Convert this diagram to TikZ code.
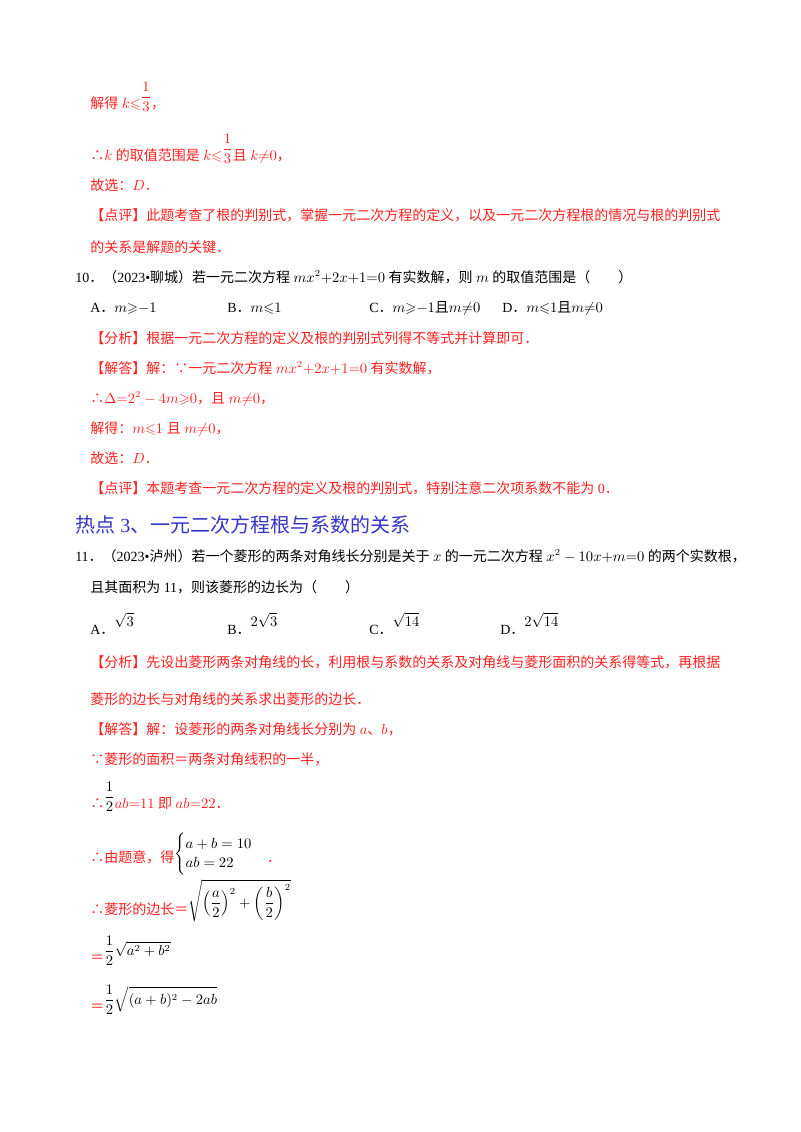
\documentclass[tikz,border=0pt]{standalone}
\usepackage{amsmath,amssymb}
\usepackage{fontspec}
\setmainfont{Liberation Serif}
\newfontfamily\cjk{Noto Sans CJK SC}
\newfontfamily\lat{Liberation Serif}
\XeTeXinterchartokenstate=1
\newXeTeXintercharclass\cjkclass
\newcount\cc
\cc="4E00 \loop\ifnum\cc<"A000 \XeTeXcharclass\cc=\cjkclass \advance\cc 1 \repeat
\cc="3000 \loop\ifnum\cc<"3040 \XeTeXcharclass\cc=\cjkclass \advance\cc 1 \repeat
\cc="FF00 \loop\ifnum\cc<"FFF0 \XeTeXcharclass\cc=\cjkclass \advance\cc 1 \repeat
\XeTeXcharclass"2234=\cjkclass \XeTeXcharclass"2235=\cjkclass
\XeTeXinterchartoks 0 \cjkclass={\cjk}
\XeTeXinterchartoks 4095 \cjkclass={\cjk}
\XeTeXinterchartoks \cjkclass 0={\lat}
\XeTeXinterchartoks \cjkclass 4095={\lat}
\definecolor{rd}{HTML}{FF2020}
\definecolor{bl}{HTML}{3535C8}
\tikzset{t/.style={anchor=base west,inner sep=0pt,font=\fontsize{10.5pt}{12pt}\selectfont},
 r/.style={t,text=rd}}
\newcommand{\up}[1]{\raisebox{5pt}{$\displaystyle\frac{1}{#1}$}}
\begin{document}
\begin{tikzpicture}[x=0.75pt,y=-0.75pt]
\useasboundingbox[fill=white] (0,0) rectangle (800,1132);
\node[r] (l1) at (90,108) {解得 $k{\leqslant}$\up{3}，};
\node[r] (l2) at (90,160) {∴$k$ 的取值范围是 $k{\leqslant}$\up{3}且 $k{\neq}0$，};
\node[r] (l3) at (90,190) {故选：$D$．};
\node[r] (l4) at (90,220) {【点评】此题考查了根的判别式，掌握一元二次方程的定义，以及一元二次方程根的情况与根的判别式};
\node[r] (l5) at (90,252) {的关系是解题的关键．};
\node[t] (q10) at (75,282) {10．（2023•聊城）若一元二次方程 $mx^2{+}2x{+}1{=}0$ 有实数解，则 $m$ 的取值范围是（\qquad）};
\node[t] (a10) at (90,312) {A．$m{\geqslant}{-}1$};
\node[t] (b10) at (227,312) {B．$m{\leqslant}1$};
\node[t] (c10) at (369,312) {C．$m{\geqslant}{-}1$且$m{\neq}0$};
\node[t] (d10) at (502,312) {D．$m{\leqslant}1$且$m{\neq}0$};
\node[r] (f10) at (90,343) {【分析】根据一元二次方程的定义及根的判别式列得不等式并计算即可．};
\node[r] (j10) at (90,373) {【解答】解：∵一元二次方程 $mx^2{+}2x{+}1{=}0$ 有实数解，};
\node[r] (k10) at (90,403) {∴$\Delta{=}2^2-4m{\geqslant}0$，且 $m{\neq}0$，};
\node[r] (m10) at (90,433) {解得：$m{\leqslant}1$ 且 $m{\neq}0$，};
\node[r] (g10) at (90,463) {故选：$D$．};
\node[r] (p10) at (90,493) {【点评】本题考查一元二次方程的定义及根的判别式，特别注意二次项系数不能为 0．};
\node[anchor=base west,inner sep=0pt,text=bl,font=\fontsize{15pt}{18pt}\selectfont] (h3) at (75,532) {热点 3、一元二次方程根与系数的关系};
\node[t] (q11) at (75,561) {11．（2023•泸州）若一个菱形的两条对角线长分别是关于 $x$ 的一元二次方程 $x^2-10x{+}m{=}0$ 的两个实数根，};
\node[t] (q11b) at (90,592) {且其面积为 11，则该菱形的边长为（\qquad）};
\node[t] (a11) at (90,634) {A．\raisebox{6pt}{$\sqrt3$}};
\node[t] (b11) at (227,634) {B．\raisebox{6pt}{$2\sqrt3$}};
\node[t] (c11) at (369,634) {C．\raisebox{6pt}{$\sqrt{14}$}};
\node[t] (d11) at (500,634) {D．\raisebox{6pt}{$2\sqrt{14}$}};
\node[r] (f11) at (90,667) {【分析】先设出菱形两条对角线的长，利用根与系数的关系及对角线与菱形面积的关系得等式，再根据};
\node[r] (f11b) at (90,704) {菱形的边长与对角线的关系求出菱形的边长．};
\node[r] (j11) at (90,734) {【解答】解：设菱形的两条对角线长分别为 $a$、$b$，};
\node[r] (k11) at (90,764) {∵菱形的面积＝两条对角线积的一半，};
\node[r] (m11) at (90,808) {∴\raisebox{5pt}{\color{black}$\displaystyle\frac12$}$ab{=}11$ 即 $ab{=}22$．};
\node[r] (n11) at (90,862) {∴由题意，得\raisebox{3pt}{\color{black}$\begin{cases}a+b=10\\ ab=22\end{cases}$}．};
\node[r] (o11) at (90,914) {∴菱形的边长＝\raisebox{5pt}{\color{black}$\displaystyle\sqrt{\left(\frac a2\right)^2+\left(\frac b2\right)^2}$}};
\node[r] (p11) at (90,962) {＝\raisebox{5pt}{\color{black}$\displaystyle\frac12\sqrt{a^2+b^2}$}};
\node[r] (q11c) at (90,1011) {＝\raisebox{5pt}{\color{black}$\displaystyle\frac12\sqrt{(a+b)^2-2ab}$}};
\end{tikzpicture}
\end{document}
